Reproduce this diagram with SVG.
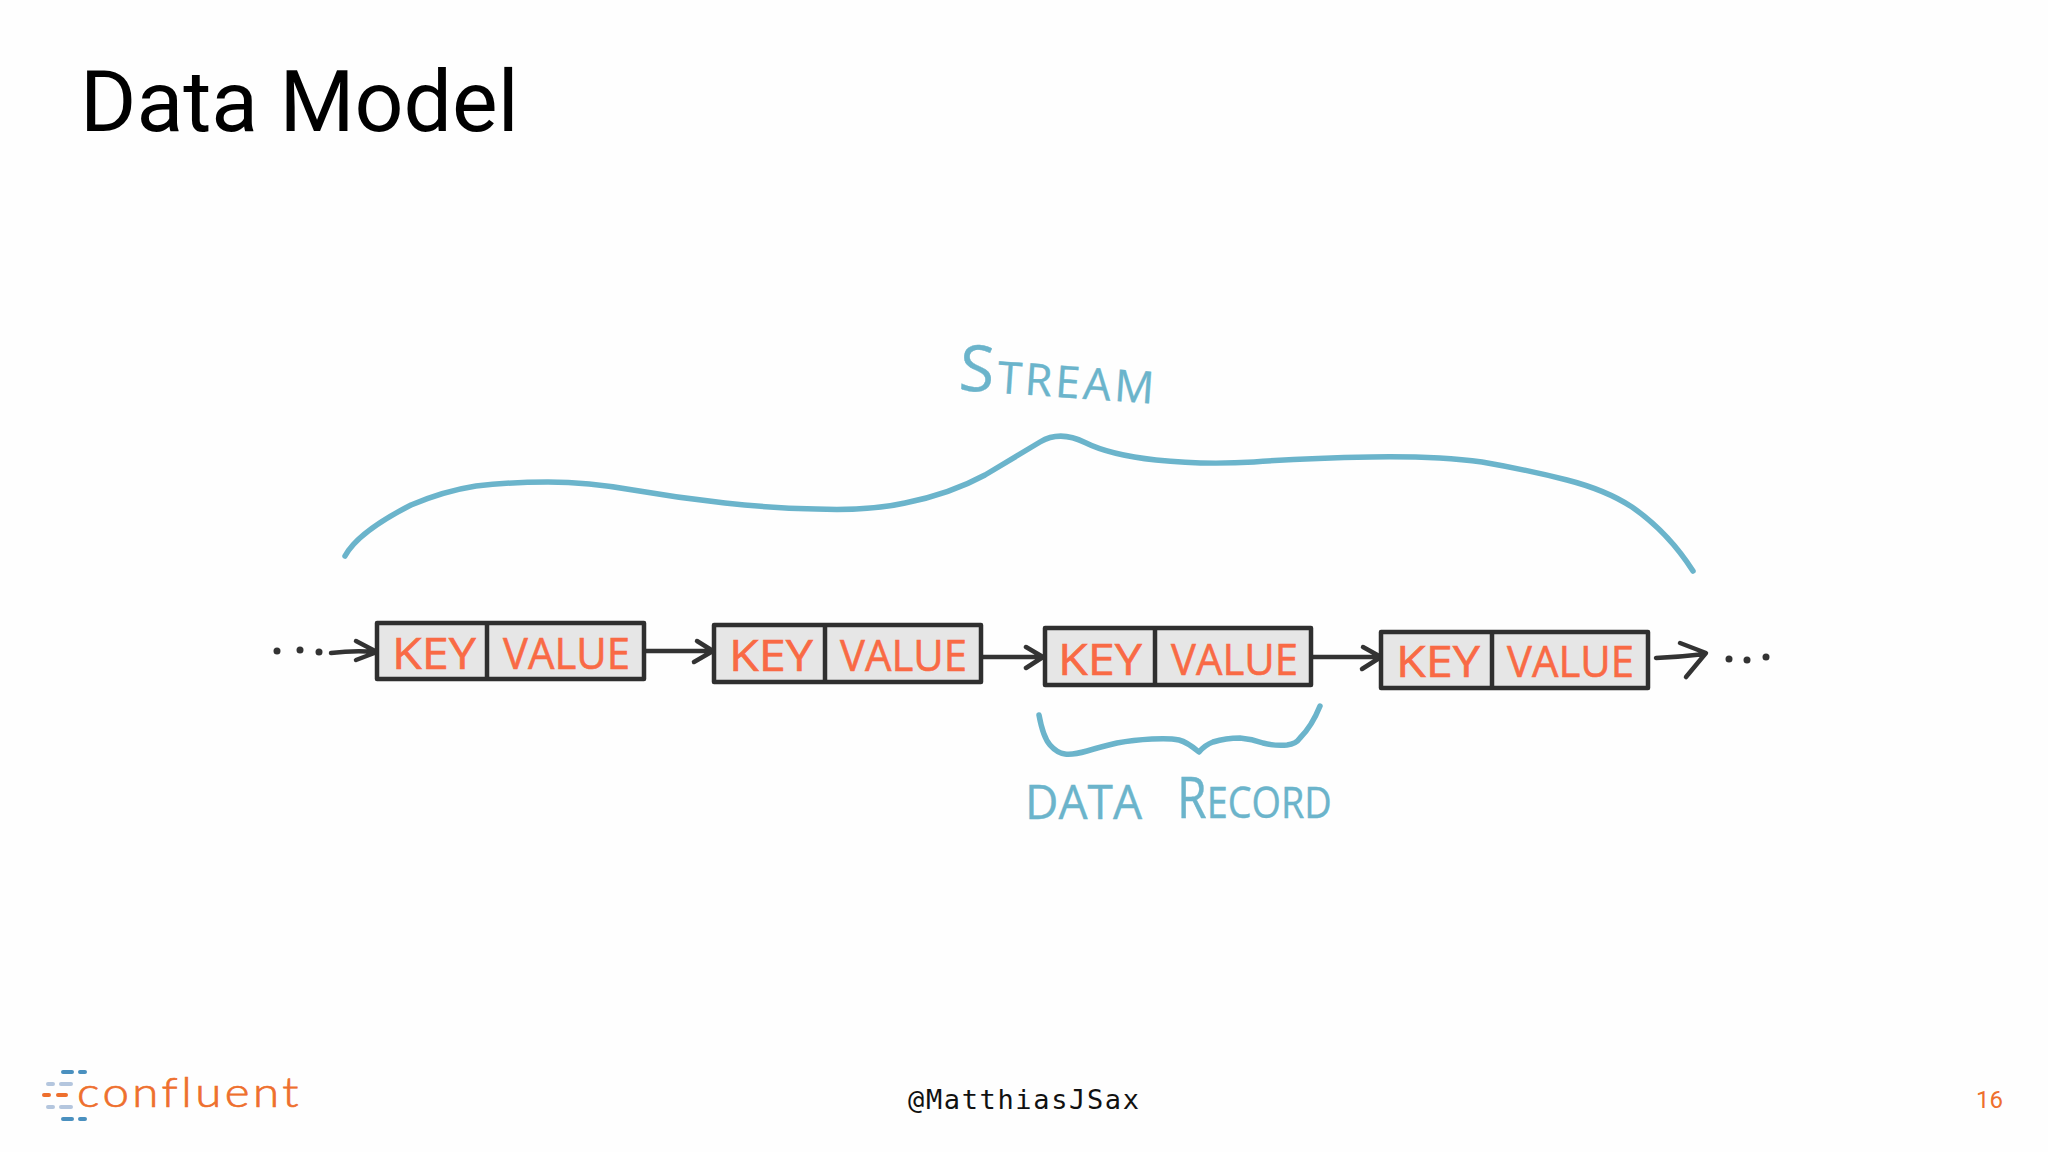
<svg xmlns="http://www.w3.org/2000/svg" width="2048" height="1152" viewBox="0 0 2048 1152">
<style>
.box{fill:#e6e6e6;stroke:#2f2f2f;stroke-width:4.5;stroke-linejoin:round}
.div{stroke:#2f2f2f;stroke-width:4.5;fill:none}
.rec{font-family:"Open Sans","DejaVu Sans",sans-serif;font-size:44px;fill:#f96a45;stroke:#f96a45;stroke-width:.6}
.conn{fill:none;stroke:#333;stroke-width:4.5;stroke-linecap:round;stroke-linejoin:round}
.dot{fill:#333}
.hand{fill:none;stroke:#6bb4cb;stroke-width:5.5;stroke-linecap:round;stroke-linejoin:round}
.lbl{font-family:"Open Sans","DejaVu Sans",sans-serif;fill:#6bb4cb;stroke:#6bb4cb;stroke-width:.4}
</style>
<rect width="2048" height="1152" fill="#fefefe"/>
<text id="title" x="80" y="131" font-family="Roboto,sans-serif" font-size="86" fill="#000">Data Model</text>

<g id="connectors">
<circle class="dot" cx="277" cy="651" r="3.5"/><circle class="dot" cx="300" cy="650" r="3.5"/><circle class="dot" cx="319" cy="652" r="3.5"/>
<path class="conn" d="M331 653Q355 650 376 652M356 641L377 652L356 660"/>
<path class="conn" d="M645 651H712M697 641L713 651L694 662"/>
<path class="conn" d="M982 657H1042M1026 647L1043 657L1026 668"/>
<path class="conn" d="M1312 657H1380M1363 647L1381 657L1362 669"/>
<path class="conn" d="M1656 658Q1680 657 1705 654M1680 643L1706 653L1686 677"/>
<circle class="dot" cx="1729" cy="659" r="3.5"/><circle class="dot" cx="1747" cy="660" r="3.5"/><circle class="dot" cx="1766" cy="657" r="3.5"/>
</g>

<g id="record1">
<rect class="box" x="377" y="623" width="267" height="56"/><path class="div" d="M487 623V679"/>
<text class="rec" x="392" y="669" textLength="84" lengthAdjust="spacingAndGlyphs">KEY</text>
<text class="rec" x="503" y="669" textLength="127" lengthAdjust="spacingAndGlyphs">VALUE</text>
</g>
<g id="record2">
<rect class="box" x="714" y="625" width="267" height="57"/><path class="div" d="M825 625V682"/>
<text class="rec" x="729" y="671" textLength="84" lengthAdjust="spacingAndGlyphs">KEY</text>
<text class="rec" x="840" y="671" textLength="127" lengthAdjust="spacingAndGlyphs">VALUE</text>
</g>
<g id="record3">
<rect class="box" x="1045" y="628" width="266" height="57"/><path class="div" d="M1155 628V685"/>
<text class="rec" x="1058" y="675" textLength="84" lengthAdjust="spacingAndGlyphs">KEY</text>
<text class="rec" x="1171" y="675" textLength="127" lengthAdjust="spacingAndGlyphs">VALUE</text>
</g>
<g id="record4">
<rect class="box" x="1381" y="632" width="267" height="56"/><path class="div" d="M1492 632V688"/>
<text class="rec" x="1396" y="677" textLength="84" lengthAdjust="spacingAndGlyphs">KEY</text>
<text class="rec" x="1507" y="677" textLength="127" lengthAdjust="spacingAndGlyphs">VALUE</text>
</g>

<g id="stream">
<path class="hand" d="M345 556Q358 532 411 505Q444 491 476 486Q509 482 548 482Q588 482 633 490Q679 498 725 503Q771 508 816 509Q870 511 905 503Q950 494 985 475Q1020 454 1040 442Q1060 430 1085 442.500Q1110 455 1156 460Q1202 465 1254 462Q1306 458 1371 457Q1437 456 1482 462Q1528 470 1567 480Q1606 490 1632 507Q1668 532 1693 571"/>
<text class="lbl" transform="rotate(4 958 390)" x="958" y="390" font-size="44" letter-spacing="3.400"><tspan font-size="64">S</tspan>TREAM</text>
</g>

<g id="data-record">
<path class="hand" d="M1039 715Q1043 737 1050 745Q1057 753 1065 754Q1073 755 1087 751Q1100 747 1117 743Q1133 740 1152 739Q1170 738 1179 740Q1187 742 1199 752Q1205 745 1213 742Q1226 738 1240 738Q1252 739 1263 743Q1275 746 1287 745Q1296 744 1300 738Q1312 726 1320 706"/>
<text class="lbl" x="1025" y="819" font-size="48" textLength="117" lengthAdjust="spacingAndGlyphs">DATA</text>
<text class="lbl" transform="translate(1177 818) scale(.86 1)" x="0" y="0" font-size="44"><tspan font-size="56">R</tspan>ECORD</text>
</g>

<g id="logo">
<g fill="none" stroke-width="4" stroke-linecap="round">
<path stroke="#4a90bf" d="M63 1072H72M80 1072H85M63 1119H72M80 1119H85"/>
<path stroke="#b4c6de" d="M48 1084H53M61 1084H71M48 1107H53M61 1107H71"/>
<path stroke="#ee6f2d" d="M44 1095H49M58 1095H66"/>
</g>
<text x="77" y="1107" font-family="Lato,sans-serif" font-weight="300" font-size="41" letter-spacing="3" fill="#ee6f2d" stroke="#ee6f2d" stroke-width=".7" textLength="225" lengthAdjust="spacingAndGlyphs">confluent</text>
</g>

<text id="handle" x="908" y="1109" font-family="'DejaVu Sans Mono',monospace" font-size="27" fill="#111" textLength="231">@MatthiasJSax</text>
<text id="page" x="1976" y="1108" font-family="Roboto,sans-serif" font-size="24" fill="#ee6f2d">16</text>
</svg>
